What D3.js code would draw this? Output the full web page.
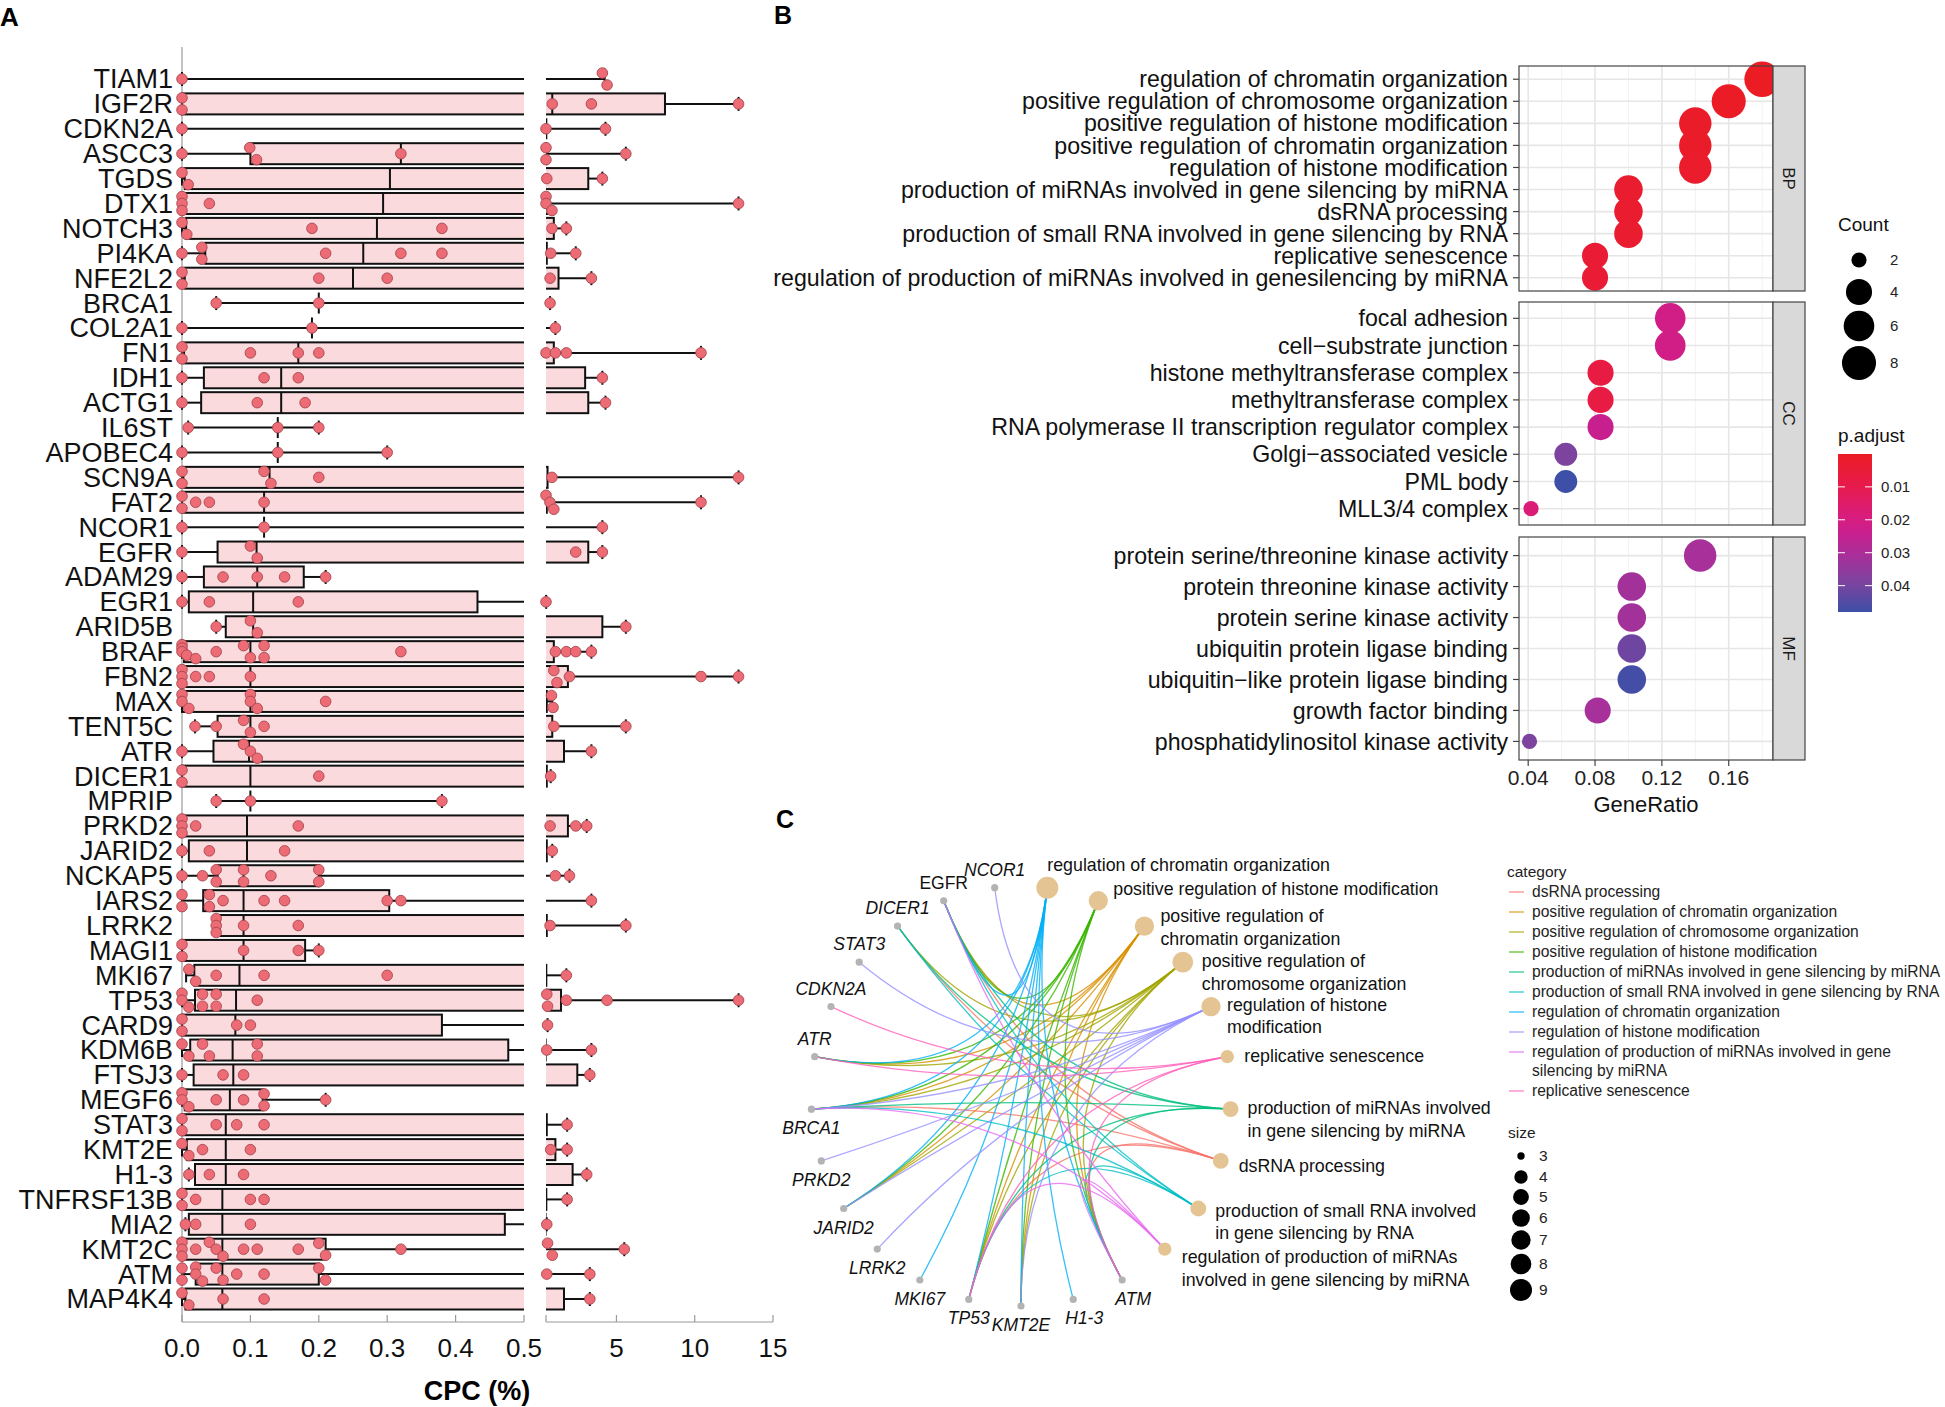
<!DOCTYPE html>
<html><head><meta charset="utf-8">
<script src="https://cdn.jsdelivr.net/npm/d3@7"></script>
<style>
html,body{margin:0;padding:0;background:#fff;}
svg{display:block;font-family:"Liberation Sans",Arial,Helvetica,sans-serif;}
</style></head><body>
<svg id="fig" width="1945" height="1407"></svg>
<script>
// ---------------- Panel A data ----------------
const genes = ["TIAM1","IGF2R","CDKN2A","ASCC3","TGDS","DTX1","NOTCH3","PI4KA","NFE2L2","BRCA1","COL2A1","FN1","IDH1","ACTG1","IL6ST","APOBEC4","SCN9A","FAT2","NCOR1","EGFR","ADAM29","EGR1","ARID5B","BRAF","FBN2","MAX","TENT5C","ATR","DICER1","MPRIP","PRKD2","JARID2","NCKAP5","IARS2","LRRK2","MAGI1","MKI67","TP53","CARD9","KDM6B","FTSJ3","MEGF6","STAT3","KMT2E","H1-3","TNFRSF13B","MIA2","KMT2C","ATM","MAP4K4"];
const whiskerLow = [0,0,0,0,0,0,0,0,0,0.05,0,0,0,0,0.009,0,0,0,0,0,0,0,0.05,0,0,0,0.019,0,0,0.05,0,0,0,0,0.05,0,0.006,0,0,0,0,0,0,0,0.01,0,0.005,0,0,0];
const boxQ1 = [4.25,0,0.52,0.10,0.004,0,0.006,0.034,0.004,0.2,0.19,0.003,0.032,0.028,0.14,0.14,0.002,0,0.12,0.052,0.032,0.01,0.064,0.003,0,0,0.052,0.046,0,0.1,0,0.01,0.052,0.031,0.055,0,0.018,0.019,0,0.012,0.017,0.004,0,0.007,0.019,0,0.01,0,0.02,0.005];
const boxMedian = [4.25,0.9,0.52,0.32,0.304,0.294,0.285,0.265,0.25,0.2,0.19,0.17,0.145,0.145,0.14,0.14,0.128,0.12,0.12,0.109,0.11,0.104,0.104,0.1,0.1,0.1,0.1,0.098,0.1,0.1,0.095,0.095,0.09,0.09,0.09,0.09,0.084,0.079,0.078,0.074,0.075,0.07,0.064,0.064,0.064,0.059,0.059,0.059,0.059,0.059];
const boxQ3 = [4.25,8.1,0.52,0.52,3.2,0.6,1.0,0.55,1.3,0.2,0.19,1.0,3.0,3.2,0.14,0.14,0.6,0.55,0.12,3.2,0.178,0.432,4.1,1.0,1.9,0.55,0.9,1.65,0.55,0.1,1.9,0.55,0.2,0.303,0.55,0.18,0.52,1.46,0.38,0.477,2.5,0.118,0.55,1.1,2.2,0.52,0.472,0.21,0.2,1.65];
const whiskerHigh = [4.25,12.8,4.3,5.6,4.1,12.8,1.8,2.4,3.4,0.76,1.1,10.4,4.1,4.3,0.2,0.3,12.8,10.4,4.1,4.1,0.21,0.51,5.6,3.4,12.8,0.9,5.6,3.4,0.8,0.38,3.1,0.9,2.0,3.4,5.6,0.2,1.8,12.8,0.6,3.4,3.3,0.21,1.85,1.85,3.1,1.85,0.55,5.5,3.3,3.3];
const cpcPoints = [
 [0,4.1,4.4],
 [0,0,0.9,3.4,12.8],
 [0,0.5,4.3],
 [0,0.099,0.109,0.32,0.5,0.5,5.6],
 [0.009,0,0.55,4.1],
 [0,0,0,0.04,0.5,0.88,0.5,12.8],
 [0.007,0,0.19,0.38,0.88,1.8],
 [0,0.029,0.029,0.21,0.32,0.38,0.8,2.4],
 [0,0,0.2,0.3,0.76,3.4],
 [0.05,0.2,0.76],
 [0,0.19,1.1],
 [0,0,0.1,0.17,0.2,0.5,1.1,1.8,10.4],
 [0,0.12,0.17,4.1],
 [0,0.11,0.18,4.3],
 [0.009,0.14,0.2],
 [0,0.14,0.3],
 [0,0,0.13,0.12,0.2,0.88,12.8],
 [0,0,0.02,0.04,0.12,0.5,0.75,1.0,10.4],
 [0,0.12,4.1],
 [0,0.1,0.11,2.4,4.1],
 [0,0.06,0.11,0.15,0.21],
 [0,0.04,0.17,0.5],
 [0.05,0.1,0.11,5.6],
 [0,0,0,0.007,0.02,0.05,0.09,0.1,0.12,0.12,0.32,1.1,1.8,2.4,3.4],
 [0,0,0,0.02,0.04,0.1,1.0,1.2,2.0,10.4,12.8],
 [0,0,0.01,0.1,0.1,0.11,0.21,0.85,0.95],
 [0.019,0.05,0.09,0.1,0.12,1.0,5.6],
 [0,0.09,0.1,0.11,3.4],
 [0,0,0.2,0.8],
 [0.05,0.1,0.38],
 [0,0,0,0.02,0.17,0.76,2.4,3.1],
 [0,0.04,0.15,0.9],
 [0,0.03,0.05,0.05,0.09,0.09,0.13,0.2,0.2,1.1,2.0],
 [0,0,0.04,0.04,0.06,0.12,0.15,0.3,0.32,3.4],
 [0.05,0.05,0.05,0.09,0.17,0.76,5.6],
 [0,0,0.09,0.17,0.2],
 [0.02,0.01,0.05,0.12,0.3,1.8],
 [0,0,0.01,0.03,0.03,0.05,0.05,0.11,0.55,0.6,1.8,4.4,12.8],
 [0,0,0.08,0.1,0.6],
 [0.01,0,0.04,0.03,0.11,0.11,0.55,3.4],
 [0,0.06,0.09,3.3],
 [0,0,0.01,0.05,0.09,0.12,0.12,0.21],
 [0,0,0.05,0.08,0.12,1.85],
 [0.01,0,0.03,0.1,0.8,1.85],
 [0.01,0.04,0.09,3.1],
 [0,0,0.02,0.1,0.12,1.85],
 [0.005,0.02,0.1,0.55],
 [0,0,0,0.02,0.04,0.05,0.06,0.09,0.11,0.17,0.2,0.21,0.32,0.6,0.9,5.5],
 [0,0,0.02,0.02,0.03,0.05,0.06,0.08,0.12,0.2,0.21,0.55,3.3],
 [0.01,0,0.06,0.12,3.3]
];
const cpcTicksLow = [0,0.1,0.2,0.3,0.4,0.5];
const cpcTicksHigh = [5,10,15];

// ---------------- Panel B data ----------------
const goTerms = ["regulation of chromatin organization","positive regulation of chromosome organization","positive regulation of histone modification","positive regulation of chromatin organization","regulation of histone modification","production of miRNAs involved in gene silencing by miRNA","dsRNA processing","production of small RNA involved in gene silencing by RNA","replicative senescence","regulation of production of miRNAs involved in genesilencing by miRNA",
 "focal adhesion","cell\u2212substrate junction","histone methyltransferase complex","methyltransferase complex","RNA polymerase II transcription regulator complex","Golgi\u2212associated vesicle","PML body","MLL3/4 complex",
 "protein serine/threonine kinase activity","protein threonine kinase activity","protein serine kinase activity","ubiquitin protein ligase binding","ubiquitin\u2212like protein ligase binding","growth factor binding","phosphatidylinositol kinase activity"];
const goOntology = ["BP","BP","BP","BP","BP","BP","BP","BP","BP","BP","CC","CC","CC","CC","CC","CC","CC","CC","MF","MF","MF","MF","MF","MF","MF"];
const geneRatio = [0.18,0.16,0.14,0.14,0.14,0.10,0.10,0.10,0.08,0.08, 0.125,0.125,0.0833,0.0833,0.0833,0.0625,0.0625,0.0417, 0.1429,0.102,0.102,0.102,0.102,0.0816,0.0408];
const goCount = [9,8,7,7,7,5,5,5,4,4, 6,6,4,4,4,3,3,2, 7,5,5,5,5,4,2];
const pAdjust = [0.00002,0.0006,0.0012,0.0015,0.002,0.003,0.003,0.003,0.004,0.004, 0.0215,0.0215,0.0072,0.0075,0.024,0.039,0.048,0.0178, 0.031,0.032,0.032,0.041,0.047,0.031,0.039];
const ratioTicks = [0.04,0.08,0.12,0.16];
const countBreaks = [2,4,6,8];
const pBreaks = [0.01,0.02,0.03,0.04];

// ---------------- Panel C data ----------------
const cnetOrder = ["production of miRNAs involved in gene silencing by miRNA","dsRNA processing","production of small RNA involved in gene silencing by RNA","regulation of production of miRNAs involved in gene silencing by miRNA","ATM","H1-3","KMT2E","TP53","MKI67","LRRK2","JARID2","PRKD2","BRCA1","ATR","CDKN2A","STAT3","DICER1","EGFR","NCOR1","regulation of chromatin organization","positive regulation of histone modification","positive regulation of chromatin organization","positive regulation of chromosome organization","regulation of histone modification","replicative senescence"];
const cnetCategories = ["dsRNA processing","positive regulation of chromatin organization","positive regulation of chromosome organization","positive regulation of histone modification","production of miRNAs involved in gene silencing by miRNA","production of small RNA involved in gene silencing by RNA","regulation of chromatin organization","regulation of histone modification","regulation of production of miRNAs involved in gene silencing by miRNA","replicative senescence"];
const cnetCategoryGenes = [
 ["DICER1","TP53","BRCA1","EGFR","ATM"],
 ["BRCA1","TP53","KMT2E","JARID2","EGFR","ATR","ATM"],
 ["BRCA1","TP53","KMT2E","JARID2","EGFR","ATR","ATM","DICER1"],
 ["BRCA1","TP53","KMT2E","JARID2","EGFR","ATR","ATM"],
 ["DICER1","TP53","BRCA1","EGFR","ATM"],
 ["DICER1","TP53","BRCA1","EGFR","ATM"],
 ["MKI67","H1-3","BRCA1","TP53","KMT2E","JARID2","EGFR","ATR","ATM"],
 ["NCOR1","STAT3","PRKD2","LRRK2","KMT2E","JARID2","BRCA1"],
 ["TP53","BRCA1","EGFR","ATM"],
 ["CDKN2A","ATR","TP53","ATM"]
];
const cnetLabelText = {
 "production of miRNAs involved in gene silencing by miRNA":["production of miRNAs involved","in gene silencing by miRNA"],
 "dsRNA processing":["dsRNA processing"],
 "production of small RNA involved in gene silencing by RNA":["production of small RNA involved","in gene silencing by RNA"],
 "regulation of production of miRNAs involved in gene silencing by miRNA":["regulation of production of miRNAs","involved in gene silencing by miRNA"],
 "regulation of chromatin organization":["regulation of chromatin organization"],
 "positive regulation of histone modification":["positive regulation of histone modification"],
 "positive regulation of chromatin organization":["positive regulation of","chromatin organization"],
 "positive regulation of chromosome organization":["positive regulation of","chromosome organization"],
 "regulation of histone modification":["regulation of histone","modification"],
 "replicative senescence":["replicative senescence"]
};
const legendCategoryText = [["dsRNA processing"],["positive regulation of chromatin organization"],["positive regulation of chromosome organization"],["positive regulation of histone modification"],["production of miRNAs involved in gene silencing by miRNA"],["production of small RNA involved in gene silencing by RNA"],["regulation of chromatin organization"],["regulation of histone modification"],["regulation of production of miRNAs involved in gene","silencing by miRNA"],["replicative senescence"]];
const sizeBreaks = [3,4,5,6,7,8,9];

// =============== drawing ===============
const svg = d3.select("#fig");
svg.append("rect").attr("width",1945).attr("height",1407).attr("fill","#fff");
const defs = svg.append("defs");

svg.append("text").attr("x",0).attr("y",26).attr("font-size",26).attr("font-weight","bold").text("A");
svg.append("text").attr("x",774).attr("y",24).attr("font-size",25).attr("font-weight","bold").text("B");
svg.append("text").attr("x",776).attr("y",828).attr("font-size",25).attr("font-weight","bold").text("C");

// ---------- Panel A ----------
const gA = svg.append("g");
const yA = d3.scalePoint().domain(genes).range([79,1299]);
const xL = d3.scaleLinear().domain([0,0.5]).range([182,524]);
const xR = d3.scaleLinear().domain([0.5,15]).range([546,773]);
const xOf = v => v < 0.5 ? xL(v) : xR(v);
const axisY = 1322;
defs.append("clipPath").attr("id","clipL").append("rect").attr("x",170).attr("y",0).attr("width",524-170).attr("height",1407);
defs.append("clipPath").attr("id","clipR").append("rect").attr("x",546).attr("y",0).attr("width",300).attr("height",1407);

gA.append("line").attr("x1",182).attr("x2",182).attr("y1",47).attr("y2",axisY).attr("stroke","#9a9a9a").attr("stroke-width",1.2);

const BH = 10.5;
[{x:xL,clip:"clipL"},{x:xR,clip:"clipR"}].forEach(p=>{
  const g = gA.append("g").attr("clip-path",`url(#${p.clip})`);
  genes.forEach((gn,i)=>{
    const y = yA(gn);
    if (boxQ1[i] > whiskerLow[i]) g.append("line").attr("x1",p.x(whiskerLow[i])).attr("x2",p.x(boxQ1[i])).attr("y1",y).attr("y2",y).attr("stroke","#111").attr("stroke-width",2);
    if (whiskerHigh[i] > boxQ3[i]) g.append("line").attr("x1",p.x(boxQ3[i])).attr("x2",p.x(whiskerHigh[i])).attr("y1",y).attr("y2",y).attr("stroke","#111").attr("stroke-width",2);
    if (boxQ3[i] > boxQ1[i]) g.append("rect").attr("x",p.x(boxQ1[i])).attr("width",p.x(boxQ3[i])-p.x(boxQ1[i])).attr("y",y-BH).attr("height",2*BH).attr("fill","#FADADD").attr("stroke","#111").attr("stroke-width",2);
    g.append("line").attr("x1",p.x(boxMedian[i])).attr("x2",p.x(boxMedian[i])).attr("y1",y-BH).attr("y2",y+BH).attr("stroke","#111").attr("stroke-width",2);
  });
});
genes.forEach((gn,i)=>{
  const y = yA(gn);
  const caps = [];
  if (whiskerHigh[i] > boxQ3[i]) caps.push(whiskerHigh[i]);
  if (whiskerLow[i] < boxQ1[i]) caps.push(whiskerLow[i]);
  caps.forEach(v=>gA.append("line").attr("x1",xOf(v)).attr("x2",xOf(v)).attr("y1",y-7).attr("y2",y+7).attr("stroke","#111").attr("stroke-width",2));
});
genes.forEach((gn,i)=>{
  const y = yA(gn);
  const pts = cpcPoints[i].map(v=>({v,x:xOf(v)})).sort((a,b)=>a.x-b.x);
  const clusters=[]; let cur=[pts[0]];
  for (let k=1;k<pts.length;k++){ if (pts[k].x-cur[cur.length-1].x < 9) cur.push(pts[k]); else {clusters.push(cur); cur=[pts[k]];} }
  clusters.push(cur);
  clusters.forEach(c=>{ const n=c.length; c.forEach((p,j)=>{ p.dy = n===1?0:(n===2?(j===0?-6:6):(-7+14*j/(n-1))); }); });
  gA.selectAll(null).data(pts).enter().append("circle")
    .attr("cx",d=>d.x).attr("cy",d=>y+d.dy).attr("r",5.3)
    .attr("fill","#EC6B75").attr("stroke","#A8474F").attr("stroke-width",0.9);
});
gA.selectAll(null).data(genes).enter().append("text")
  .attr("x",173).attr("y",d=>yA(d)).attr("dy","0.35em").attr("text-anchor","end")
  .attr("font-size",27).attr("fill","#111").text(d=>d);
gA.append("line").attr("x1",182).attr("x2",524).attr("y1",axisY).attr("y2",axisY).attr("stroke","#9a9a9a").attr("stroke-width",1.2);
gA.append("line").attr("x1",546).attr("x2",773).attr("y1",axisY).attr("y2",axisY).attr("stroke","#9a9a9a").attr("stroke-width",1.2);
cpcTicksLow.forEach(t=>{
  gA.append("line").attr("x1",xL(t)).attr("x2",xL(t)).attr("y1",axisY-7).attr("y2",axisY).attr("stroke","#9a9a9a").attr("stroke-width",1.2);
  gA.append("text").attr("x",xL(t)).attr("y",1357).attr("text-anchor","middle").attr("font-size",26).attr("fill","#111").text(d3.format(".1f")(t));
});
gA.append("line").attr("x1",546).attr("x2",546).attr("y1",axisY-7).attr("y2",axisY).attr("stroke","#9a9a9a").attr("stroke-width",1.2);
cpcTicksHigh.forEach(t=>{
  gA.append("line").attr("x1",xR(t)).attr("x2",xR(t)).attr("y1",axisY-7).attr("y2",axisY).attr("stroke","#9a9a9a").attr("stroke-width",1.2);
  gA.append("text").attr("x",xR(t)).attr("y",1357).attr("text-anchor","middle").attr("font-size",26).attr("fill","#111").text(t);
});
gA.append("text").attr("x",477).attr("y",1400).attr("text-anchor","middle").attr("font-size",27).attr("font-weight","bold").text("CPC (%)");

// ---------- Panel B ----------
const gB = svg.append("g");
const ontBounds = {BP:[66,291],CC:[302,525],MF:[537,760]};
const bLeft = 1519, bRight = 1773, stripW = 32;
const xB = d3.scaleLinear().domain([0.0345,0.1865]).range([bLeft,bRight]);
const rB = c => 7.6 + 10.2*Math.sqrt((c-2)/7);
const pExt = d3.extent(pAdjust);
const colStops = [0,0.2,0.4,0.5,0.65,0.82,1];
const colB = d3.scaleLinear().domain(colStops.map(t=>pExt[0]+t*(pExt[1]-pExt[0])))
  .range(["#EC1C24","#E61B4C","#D91C7E","#C81F8E","#A6309A","#7A449F","#3D4FA7"]).interpolate(d3.interpolateRgb);
defs.append("clipPath").attr("id","clipB").append("rect").attr("x",bLeft).attr("y",0).attr("width",bRight-bLeft).attr("height",800);
["BP","CC","MF"].forEach(ont=>{
  const [t,b] = ontBounds[ont];
  const idx = goTerms.map((d,i)=>i).filter(i=>goOntology[i]===ont);
  const yB = d3.scalePoint().domain(idx.map(i=>goTerms[i])).range([t,b]).padding(0.6);
  gB.append("rect").attr("x",bLeft).attr("y",t).attr("width",bRight-bLeft).attr("height",b-t).attr("fill","#fff");
  [0.06,0.10,0.14,0.18].forEach(v=>gB.append("line").attr("x1",xB(v)).attr("x2",xB(v)).attr("y1",t).attr("y2",b).attr("stroke","#F3F3F3").attr("stroke-width",1));
  ratioTicks.forEach(v=>gB.append("line").attr("x1",xB(v)).attr("x2",xB(v)).attr("y1",t).attr("y2",b).attr("stroke","#E6E6E6").attr("stroke-width",1.6));
  idx.forEach(i=>gB.append("line").attr("x1",bLeft).attr("x2",bRight).attr("y1",yB(goTerms[i])).attr("y2",yB(goTerms[i])).attr("stroke","#E6E6E6").attr("stroke-width",1.6));
  const gd = gB.append("g").attr("clip-path","url(#clipB)");
  gd.selectAll(null).data(idx).enter().append("circle")
    .attr("cx",i=>xB(geneRatio[i])).attr("cy",i=>yB(goTerms[i])).attr("r",i=>rB(goCount[i]))
    .attr("fill",i=>colB(pAdjust[i]));
  gB.append("rect").attr("x",bLeft).attr("y",t).attr("width",bRight-bLeft).attr("height",b-t).attr("fill","none").attr("stroke","#444").attr("stroke-width",1.2);
  gB.append("rect").attr("x",bRight).attr("y",t).attr("width",stripW).attr("height",b-t).attr("fill","#D9D9D9").attr("stroke","#444").attr("stroke-width",1.2);
  gB.append("text").attr("transform",`translate(${bRight+stripW/2},${(t+b)/2}) rotate(90)`).attr("text-anchor","middle").attr("dy","0.35em").attr("font-size",17).attr("fill","#1a1a1a").text(ont);
  idx.forEach(i=>{
    const y = yB(goTerms[i]);
    gB.append("line").attr("x1",bLeft-6).attr("x2",bLeft).attr("y1",y).attr("y2",y).attr("stroke","#444").attr("stroke-width",1.2);
    gB.append("text").attr("x",bLeft-11).attr("y",y).attr("dy","0.35em").attr("text-anchor","end").attr("font-size",23.2).attr("fill","#111").text(goTerms[i]);
  });
});
ratioTicks.forEach(v=>{
  gB.append("line").attr("x1",xB(v)).attr("x2",xB(v)).attr("y1",760).attr("y2",766).attr("stroke","#444").attr("stroke-width",1.2);
  gB.append("text").attr("x",xB(v)).attr("y",785).attr("text-anchor","middle").attr("font-size",21).attr("fill","#222").text(d3.format(".2f")(v));
});
gB.append("text").attr("x",(bLeft+bRight)/2).attr("y",812).attr("text-anchor","middle").attr("font-size",22).attr("fill","#111").text("GeneRatio");
gB.append("text").attr("x",1838).attr("y",231).attr("font-size",19).attr("fill","#111").text("Count");
const countY = d3.scaleOrdinal().domain(countBreaks).range([260,292,326,363]);
countBreaks.forEach(c=>{
  gB.append("circle").attr("cx",1859).attr("cy",countY(c)).attr("r",rB(c)).attr("fill","#000");
  gB.append("text").attr("x",1890).attr("y",countY(c)).attr("dy","0.35em").attr("font-size",15).attr("fill","#222").text(c);
});
gB.append("text").attr("x",1838).attr("y",442).attr("font-size",19).attr("fill","#111").text("p.adjust");
const grad = defs.append("linearGradient").attr("id","pgrad").attr("x1",0).attr("x2",0).attr("y1",0).attr("y2",1);
d3.range(0,1.0001,0.05).forEach(f=>grad.append("stop").attr("offset",f).attr("stop-color",colB(pExt[0]+f*(pExt[1]-pExt[0]))));
const cbY = d3.scaleLinear().domain(pExt).range([454,612]);
gB.append("rect").attr("x",1838).attr("y",454).attr("width",34).attr("height",158).attr("fill","url(#pgrad)");
pBreaks.forEach(p=>{
  gB.append("line").attr("x1",1838).attr("x2",1845).attr("y1",cbY(p)).attr("y2",cbY(p)).attr("stroke","#fff").attr("stroke-width",1);
  gB.append("line").attr("x1",1865).attr("x2",1872).attr("y1",cbY(p)).attr("y2",cbY(p)).attr("stroke","#fff").attr("stroke-width",1);
  gB.append("text").attr("x",1881).attr("y",cbY(p)).attr("dy","0.35em").attr("font-size",15).attr("fill","#222").text(p);
});

// ---------- Panel C ----------
const gC = svg.append("g");
const hue = d3.scaleOrdinal().domain(cnetCategories).range(["#F8766D","#D89000","#A3A500","#39B600","#00BF7D","#00BFC4","#00B0F6","#9590FF","#E76BF3","#FF62BC"]);
const cx = 1021, cy = 1096, R = 210;
const angOf = d3.scaleLinear().domain([0,cnetOrder.length]).range([3.6*Math.PI/180, (3.6+360)*Math.PI/180]);
const nodePos = {};
cnetOrder.forEach((n,i)=>{ const a = angOf(i); nodePos[n] = {x:cx+R*Math.cos(a), y:cy+R*Math.sin(a), a}; });
const catSize = {}; cnetCategories.forEach((c,i)=>catSize[c]=cnetCategoryGenes[i].length);
const rC = s => 3.7 + 7.3*Math.sqrt((s-3)/6);
cnetCategories.forEach((c,i)=>{
  cnetCategoryGenes[i].forEach(gn=>{
    const p0 = nodePos[gn], p1 = nodePos[c];
    gC.append("path").attr("d",`M${p0.x},${p0.y} Q${cx},${cy} ${p1.x},${p1.y}`)
      .attr("fill","none").attr("stroke",hue(c)).attr("stroke-opacity",0.8).attr("stroke-width",1.3);
  });
});
cnetOrder.forEach(n=>{
  const p = nodePos[n];
  if (catSize[n]!==undefined) gC.append("circle").attr("cx",p.x).attr("cy",p.y).attr("r",rC(catSize[n])).attr("fill","#E5C494");
  else gC.append("circle").attr("cx",p.x).attr("cy",p.y).attr("r",3.6).attr("fill","#B3B3B3");
});
// label placement (repel-like nudges, layout only)
const catLabelNudge = {
 "regulation of chromatin organization":[0,-23],
 "positive regulation of histone modification":[15,-12],
 "positive regulation of chromatin organization":[16,-10],
 "positive regulation of chromosome organization":[19,-1],
 "regulation of histone modification":[16,-2],
 "replicative senescence":[17,-1],
 "production of miRNAs involved in gene silencing by miRNA":[17,-1],
 "dsRNA processing":[18,5],
 "production of small RNA involved in gene silencing by RNA":[17,2],
 "regulation of production of miRNAs involved in gene silencing by miRNA":[17,8]
};
const uprightGenes = ["EGFR"];
cnetOrder.forEach(n=>{
  const p = nodePos[n];
  if (catSize[n]===undefined){
    const up = Math.sin(p.a) < 0;
    const dx = Math.cos(p.a) > 0.2 && !up ? 11 : 0;
    gC.append("text").attr("x",p.x+dx).attr("y",p.y+(up?-12:25)).attr("text-anchor","middle")
      .attr("font-size",17.5).attr("font-style",uprightGenes.includes(n)?"normal":"italic").attr("fill","#111").text(n);
  } else {
    const [dx,dy] = catLabelNudge[n];
    const lx = p.x + dx, ly = p.y + dy;
    const lines = cnetLabelText[n];
    const t = gC.append("text").attr("x",lx).attr("y",ly).attr("font-size",17.8).attr("fill","#111");
    lines.forEach((s,k)=>t.append("tspan").attr("x",lx).attr("dy",k===0?"0.35em":22.5).text(s));
  }
});
gC.append("text").attr("x",1507).attr("y",877).attr("font-size",15.5).attr("fill","#222").text("category");
let ly = 897;
cnetCategories.forEach((c,i)=>{
  gC.append("line").attr("x1",1509).attr("x2",1524).attr("y1",ly-5).attr("y2",ly-5).attr("stroke",hue(c)).attr("stroke-opacity",0.8).attr("stroke-width",1.3);
  const t = gC.append("text").attr("x",1532).attr("y",ly).attr("font-size",15.6).attr("fill","#222");
  legendCategoryText[i].forEach((s,k)=>t.append("tspan").attr("x",1532).attr("dy",k===0?0:19).text(s));
  ly += 20 * legendCategoryText[i].length - (legendCategoryText[i].length>1?1:0);
});
gC.append("text").attr("x",1508).attr("y",1138).attr("font-size",15.5).attr("fill","#222").text("size");
const sizeY = d3.scaleOrdinal().domain(sizeBreaks).range([1156,1177,1197,1218,1240,1264,1290]);
sizeBreaks.forEach(s=>{
  gC.append("circle").attr("cx",1521).attr("cy",sizeY(s)).attr("r",rC(s)).attr("fill","#000");
  gC.append("text").attr("x",1539).attr("y",sizeY(s)).attr("dy","0.35em").attr("font-size",15.5).attr("fill","#222").text(s);
});
</script></body></html>
